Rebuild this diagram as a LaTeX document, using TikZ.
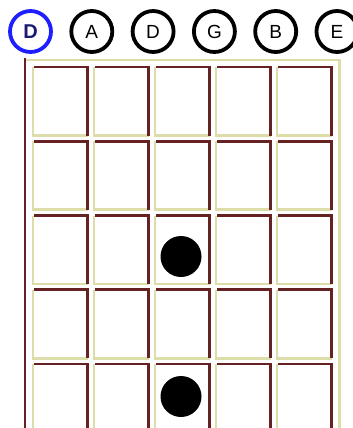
\documentclass[tikz,border=0pt]{standalone}
\usepackage{fontspec}
\setmainfont{Liberation Sans}
\definecolor{fretdark}{HTML}{662222}
\definecolor{fretlight}{HTML}{DDDDAA}
\definecolor{ringblue}{HTML}{1E1EFF}
\definecolor{letterblue}{HTML}{1A1A70}
\tikzset{
  ring/.style={circle, draw=black, line width=3.8pt, minimum size=41pt, inner sep=0pt,
    font=\fontsize{19}{19}\selectfont},
  rootring/.style={ring, draw=ringblue, text=letterblue, font=\fontsize{20}{20}\selectfont\bfseries},
  darkline/.style={draw=fretdark, line width=2.6pt},
  lightline/.style={draw=fretlight, line width=2.8pt},
  dot/.style={circle, fill=black, minimum size=41pt, inner sep=0pt}
}
\begin{document}
\begin{tikzpicture}[x=1pt, y=-1pt]
\useasboundingbox (0,0) rectangle (353,428);
\clip (0,0) rectangle (353,428);
% string heads
\node[rootring] (s1) at (30.5,31.5) {D};
\node[ring] (s2) at (91.8,31.5) {A};
\node[ring] (s3) at (153.1,31.5) {D};
\node[ring] (s4) at (214.4,31.5) {G};
\node[ring] (s5) at (275.7,31.5) {B};
\node[ring] (s6) at (337,31.5) {E};
% outer frame
\draw[lightline] (25,60) -- (339.5,60) -- (339.5,440);
\draw[darkline] (25,58.5) -- (25,440);
% cells
\foreach \i in {0,...,4} {
  \foreach \j in {0,...,4} {
    \pgfmathsetmacro{\xl}{33+61*\i}
    \pgfmathsetmacro{\xr}{\xl+54.5}
    \pgfmathsetmacro{\yt}{67+74.25*\j}
    \pgfmathsetmacro{\yb}{\yt+68.5}
    \draw[lightline] (\xl,\yt) -- (\xl,\yb) -- (\xr,\yb);
    \draw[darkline] (\xl+1.4,\yt) -- (\xr,\yt) -- (\xr,\yb);
  }
}
% finger dots
\node[dot] (d1) at (181,256.5) {};
\node[dot] (d2) at (181,396.5) {};
\end{tikzpicture}
\end{document}
